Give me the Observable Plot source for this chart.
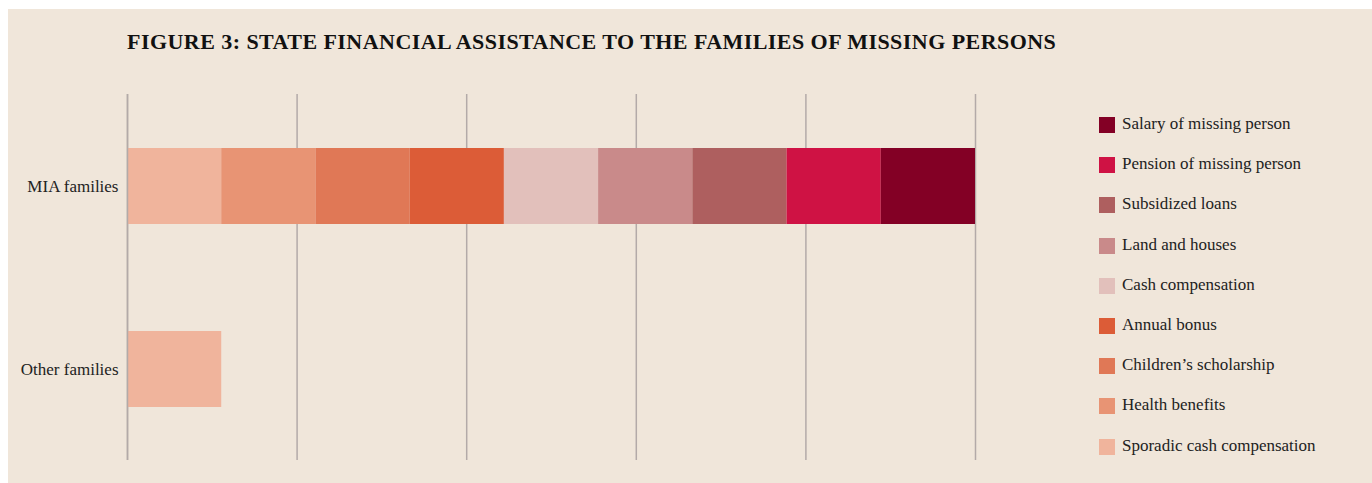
<!DOCTYPE html>
<html>
<head>
<meta charset="utf-8">
<script src="https://cdn.jsdelivr.net/npm/d3@7"></script>
<script src="https://cdn.jsdelivr.net/npm/@observablehq/plot@0.6"></script>
<style>
  html, body { margin: 0; padding: 0; background: #ffffff; }
  #panel { position: absolute; left: 8px; top: 9px; width: 1364px; height: 474px; background: #f0e6da; }
  #title { position: absolute; left: 127px; top: 29px; font-family: "Liberation Serif", "DejaVu Serif", serif; font-weight: bold; font-size: 22px; letter-spacing: 0.45px; color: #111; white-space: nowrap; }
  #chart { position: absolute; left: 0; top: 0; }
  #legend { position: absolute; left: 1099px; top: 114px; font-family: "Liberation Serif", "DejaVu Serif", serif; font-size: 17px; color: #222; }
  .item { height: 40.2px; display: flex; align-items: flex-start; }
  .sw { width: 16px; height: 16px; margin-right: 7px; margin-top: 3px; flex: none; }
</style>
</head>
<body>
<div id="panel"></div>
<div id="chart"></div>
<div id="title">FIGURE 3: STATE FINANCIAL ASSISTANCE TO THE FAMILIES OF MISSING PERSONS</div>
<div id="legend"></div>
<script>
// Categories (rows)
const groups = ["MIA families", "Other families"];
// Assistance types, in stacking order (left to right)
const types = [
  "Sporadic cash compensation",
  "Health benefits",
  "Children’s scholarship",
  "Annual bonus",
  "Cash compensation",
  "Land and houses",
  "Subsidized loans",
  "Pension of missing person",
  "Salary of missing person"
];
const colors = [
  "#f0b49c", "#e89474", "#e07856", "#dc5c37",
  "#e2c0bb", "#c98a8a", "#ae5f5f", "#cf1244", "#830025"
];
// Values: 1 = assistance provided, 0 = not provided
const miaValues   = [1, 1, 1, 1, 1, 1, 1, 1, 1];
const otherValues = [1, 0, 0, 0, 0, 0, 0, 0, 0];
const gridTicks = [0, 1.8, 3.6, 5.4, 7.2, 9];

const data = [];
types.forEach((t, i) => {
  data.push({group: groups[0], type: t, value: miaValues[i]});
  data.push({group: groups[1], type: t, value: otherValues[i]});
});

const chart = Plot.plot({
  width: 1372,
  height: 483,
  marginLeft: 127,
  marginRight: 397,
  marginTop: 94,
  marginBottom: 23,
  style: {background: "transparent", fontFamily: "'Liberation Serif', 'DejaVu Serif', serif", fontSize: "17px", color: "#222"},
  x: {domain: [0, 9], axis: null},
  y: {domain: groups, paddingInner: 0.585, paddingOuter: 0.2925, label: null, tickSize: 0, tickPadding: 9},
  color: {domain: types, range: colors},
  marks: [
    Plot.ruleX(gridTicks, {stroke: "#b3aaa8", strokeWidth: 1.5}),
    Plot.barX(data.filter(d => d.value > 0), Plot.stackX({x: "value", y: "group", fill: "type", order: types})),
    Plot.ruleX([0], {stroke: "#b3aaa8", strokeWidth: 1.5}),
    Plot.axisY({tickSize: 0, tickPadding: 9, label: null, fontSize: 17})
  ]
});
document.getElementById("chart").appendChild(chart);

// Legend (reverse order: darkest first)
const legend = document.getElementById("legend");
for (let i = types.length - 1; i >= 0; i--) {
  const item = document.createElement("div");
  item.className = "item";
  const sw = document.createElement("div");
  sw.className = "sw";
  sw.style.background = colors[i];
  const label = document.createElement("span");
  label.textContent = types[i];
  item.appendChild(sw);
  item.appendChild(label);
  legend.appendChild(item);
}
</script>
</body>
</html>
